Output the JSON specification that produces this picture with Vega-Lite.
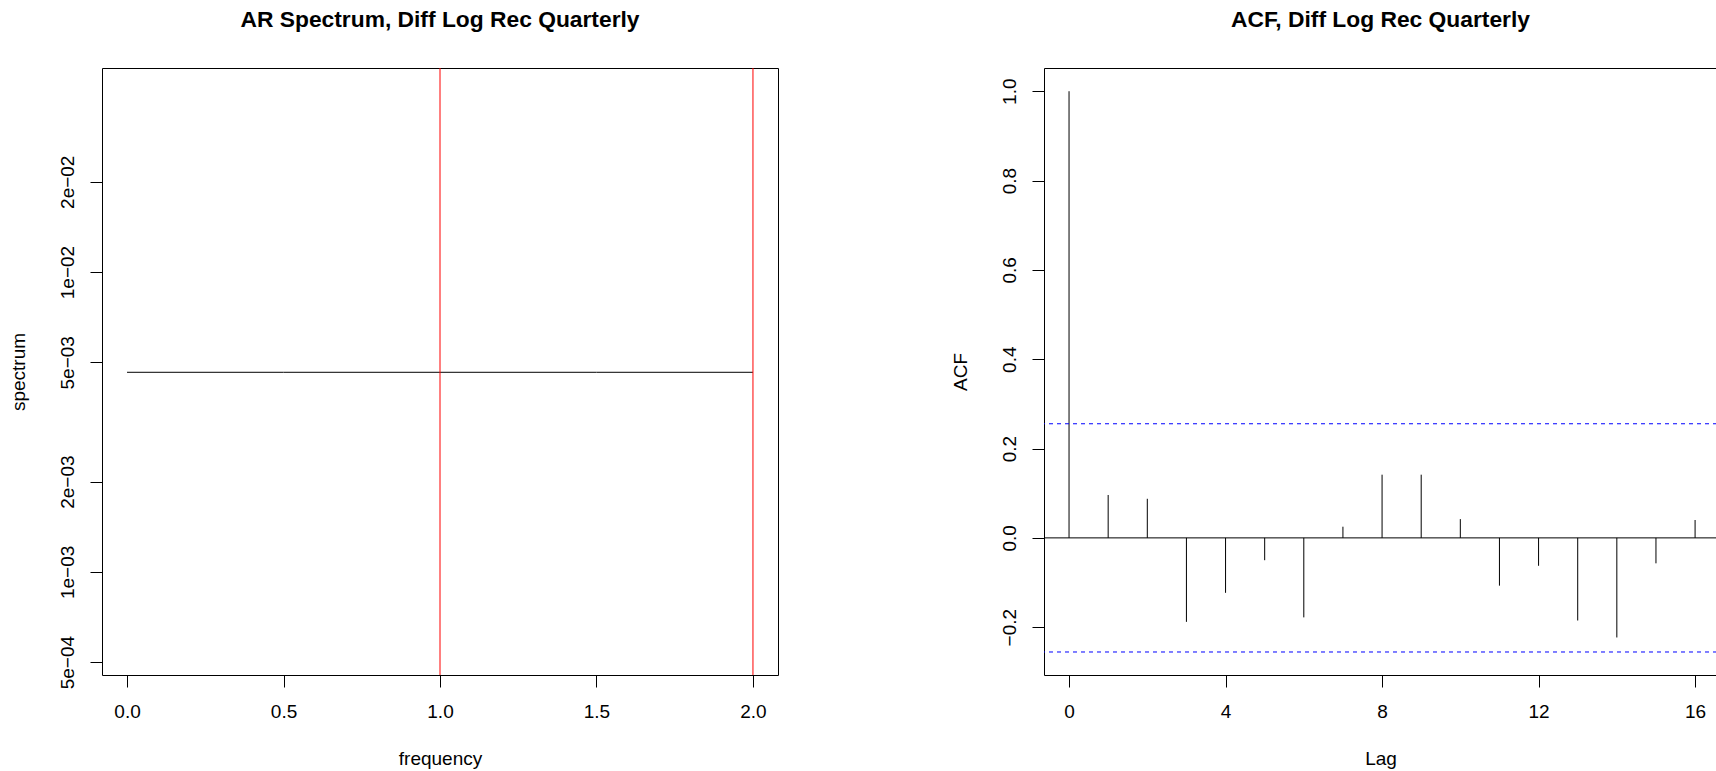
{
  "$schema": "https://vega.github.io/schema/vega-lite/v6.json",
  "background": "white",
  "autosize": {"type": "pad"},
  "padding": {"left": 8, "top": 8, "right": 0, "bottom": 0},
  "config": {
    "font": "Liberation Sans",
    "view": {"stroke": "black", "strokeWidth": 1},
    "axis": {
      "grid": false,
      "domain": false,
      "domainColor": "black",
      "domainWidth": 1,
      "tickColor": "black",
      "tickWidth": 1,
      "tickSize": 12,
      "labelColor": "black",
      "labelFont": "Liberation Sans",
      "labelFontSize": 19,
      "titleFont": "Liberation Sans",
      "titleFontSize": 19,
      "titleFontWeight": "normal",
      "titleColor": "black",
      "labelFlush": false,
      "labelOverlap": false
    },
    "title": {
      "font": "Liberation Sans",
      "fontSize": 22.8,
      "fontWeight": "bold",
      "color": "black",
      "anchor": "middle",
      "frame": "group",
      "baseline": "alphabetic",
      "offset": 36
    }
  },
  "datasets": {
    "spec": [
      {"frequency": 0.0, "spectrum": 0.00463},
      {"frequency": 0.5, "spectrum": 0.00463},
      {"frequency": 1.0, "spectrum": 0.00463},
      {"frequency": 1.5, "spectrum": 0.00463},
      {"frequency": 2.0, "spectrum": 0.00463}
    ],
    "harm": [
      {"frequency": 1},
      {"frequency": 2}
    ],
    "acf": [
      {"lag": 0, "acf": 1.0},
      {"lag": 1, "acf": 0.096},
      {"lag": 2, "acf": 0.0875},
      {"lag": 3, "acf": -0.188},
      {"lag": 4, "acf": -0.123},
      {"lag": 5, "acf": -0.05},
      {"lag": 6, "acf": -0.178},
      {"lag": 7, "acf": 0.025},
      {"lag": 8, "acf": 0.1415},
      {"lag": 9, "acf": 0.1415},
      {"lag": 10, "acf": 0.042},
      {"lag": 11, "acf": -0.107},
      {"lag": 12, "acf": -0.0625},
      {"lag": 13, "acf": -0.185},
      {"lag": 14, "acf": -0.223},
      {"lag": 15, "acf": -0.057},
      {"lag": 16, "acf": 0.04}
    ],
    "ci": [
      {"level": 0.2555},
      {"level": -0.2555}
    ]
  },
  "spacing": 266,
  "bounds": "flush",
  "hconcat": [
    {
      "title": "AR Spectrum, Diff Log Rec Quarterly",
      "width": 676,
      "height": 607,
      "layer": [
        {
          "data": {"name": "spec"},
          "mark": {"type": "line", "color": "black", "strokeWidth": 1},
          "encoding": {
            "x": {
              "field": "frequency", "type": "quantitative",
              "scale": {"domain": [-0.08, 2.08], "nice": false, "zero": false},
              "axis": {
                "values": [0, 0.5, 1, 1.5, 2], "format": ".1f", "title": "frequency",
                "labelPadding": 15, "titleBaseline": "alphabetic", "titleY": 89
              }
            },
            "y": {
              "field": "spectrum", "type": "quantitative",
              "scale": {"type": "log", "domain": [0.000453, 0.0479], "nice": false, "zero": false},
              "axis": {
                "values": [0.0005, 0.001, 0.002, 0.005, 0.01, 0.02],
                "labelExpr": "replace(format(datum.value, '.0e'), regexp('e[-−]'), 'e−0')",
                "labelAngle": 270, "labelAlign": "center", "labelBaseline": "alphabetic",
                "labelPadding": 17,
                "title": "spectrum", "titleAngle": 270, "titleBaseline": "alphabetic",
                "titleAlign": "center", "titleX": -78, "titleY": 303.5
              }
            }
          }
        },
        {
          "data": {"name": "harm"},
          "mark": {"type": "rule", "color": "#FF0000", "strokeWidth": 1},
          "encoding": {
            "x": {"field": "frequency", "type": "quantitative"}
          }
        }
      ]
    },
    {
      "title": "ACF, Diff Log Rec Quarterly",
      "width": 673,
      "height": 607,
      "view": {"stroke": null},
      "resolve": {"axis": {"x": "independent"}},
      "layer": [
        {
          "data": {"name": "acf"},
          "mark": {"type": "rule", "color": "black", "strokeWidth": 1},
          "encoding": {
            "x": {
              "field": "lag", "type": "quantitative",
              "scale": {"domain": [-0.64, 16.56], "nice": false, "zero": false},
              "axis": {
                "orient": "bottom", "domain": true,
                "values": [0, 4, 8, 12, 16], "format": "d", "title": "Lag",
                "labelPadding": 15, "titleBaseline": "alphabetic", "titleY": 89
              }
            },
            "y": {
              "field": "acf", "type": "quantitative",
              "scale": {"domain": [-0.307, 1.052], "nice": false, "zero": false},
              "axis": {
                "domain": true,
                "values": [-0.2, 0, 0.2, 0.4, 0.6, 0.8, 1.0], "format": ".1f",
                "labelAngle": 270, "labelAlign": "center", "labelBaseline": "alphabetic",
                "labelPadding": 17,
                "title": "ACF", "titleAngle": 270, "titleBaseline": "alphabetic",
                "titleAlign": "center", "titleX": -78, "titleY": 303.5
              }
            },
            "y2": {"datum": 0}
          }
        },
        {
          "data": {"name": "acf"},
          "mark": {"type": "rule", "color": "black", "strokeWidth": 1},
          "encoding": {
            "x": {
              "aggregate": "max", "field": "lag", "type": "quantitative",
              "axis": {
                "orient": "top", "domain": true, "ticks": false, "labels": false, "title": null
              }
            },
            "opacity": {"value": 0}
          }
        },
        {
          "data": {"name": "ci"},
          "mark": {"type": "rule", "color": "#0000FF", "strokeWidth": 1, "strokeDash": [4, 4]},
          "encoding": {
            "y": {"field": "level", "type": "quantitative"}
          }
        },
        {
          "data": {"values": [{"base": 0}]},
          "mark": {"type": "rule", "color": "black", "strokeWidth": 1},
          "encoding": {
            "y": {"field": "base", "type": "quantitative"}
          }
        }
      ]
    }
  ]
}
